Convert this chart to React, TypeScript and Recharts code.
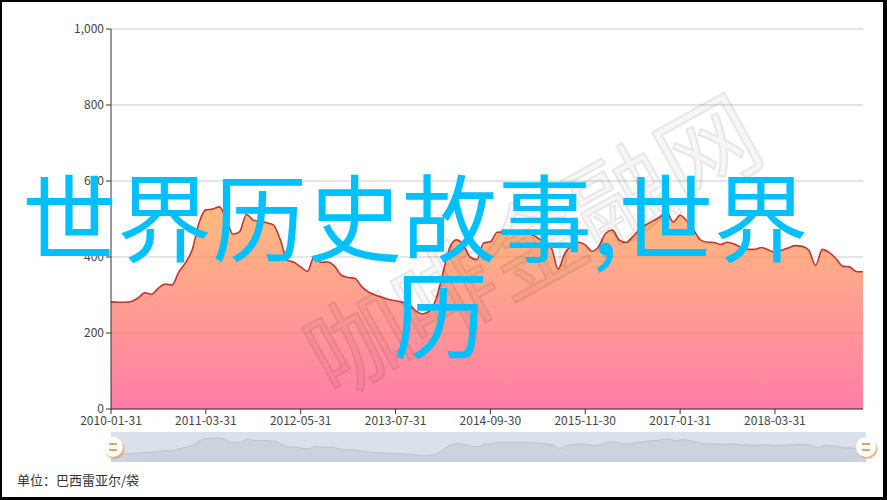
import React from "react";
import { AreaChart, Area, XAxis, YAxis, CartesianGrid } from "recharts";

// Month-end dates, 2010-01 .. 2019-04
const START_YEAR = 2010;
const MONTH_COUNT = 112;
const DATES: string[] = Array.from({ length: MONTH_COUNT }, (_, i) => {
  const y = START_YEAR + Math.floor(i / 12);
  const m = (i % 12) + 1;
  const last = new Date(Date.UTC(y, m, 0)).getUTCDate();
  return `${y}-${String(m).padStart(2, "0")}-${String(last).padStart(2, "0")}`;
});

// Price, BRL per bag
const PRICES: number[] = [
  282, 281, 281, 283, 292, 306, 302, 318, 329, 326,
  360, 385, 420, 490, 524, 526, 532, 500, 460, 467,
  512, 497, 494, 490, 484, 445, 392, 386, 374, 362,
  402, 386, 387, 376, 352, 346, 344, 322, 308, 300,
  294, 288, 285, 281, 275, 258, 250, 258, 290, 358,
  424, 445, 432, 400, 393, 437, 440, 465, 466, 465,
  463, 462, 460, 450, 437, 424, 368, 410, 430, 439,
  432, 415, 428, 462, 471, 445, 438, 453, 472, 485,
  495, 505, 518, 492, 510, 495, 471, 445, 439, 438,
  433, 439, 434, 425, 420, 420, 425, 419, 412, 418,
  424, 430, 428, 418, 378, 420, 412, 396, 376, 374,
  362, 361,
];

const Y_TICKS = [0, 200, 400, 600, 800, 1000];
const TITLE_LINE1 = "世界历史故事,世界";
const TITLE_LINE2 = "历";
const WATERMARK = "咖啡金融网";
const UNIT = "单位：巴西雷亚尔/袋";

const data = DATES.map((d, i) => ({ date: d, price: PRICES[i] }));

const FONT = "'Noto Sans CJK SC', 'Noto Sans', sans-serif";

// round slider handle with the "=" grip
function Handle({ cx, cy }: { cx: number; cy: number }) {
  return (
    <div
      style={{
        position: "absolute",
        left: cx - 10,
        top: cy - 10,
        width: 20,
        height: 20,
        borderRadius: "50%",
        background: "#fff",
        boxShadow: "1.5px 2px 1px rgba(225,160,80,0.75)",
      }}
    >
      <div style={{ position: "absolute", left: 6, top: 6, width: 8, height: 1.5, background: "#e0a55a" }} />
      <div style={{ position: "absolute", left: 6, top: 12, width: 8, height: 1.5, background: "#e0a55a" }} />
    </div>
  );
}

export default function App() {
  return (
    <div
      style={{
        position: "absolute",
        left: 0,
        top: 0,
        width: 887,
        height: 500,
        boxSizing: "border-box",
        borderStyle: "solid",
        borderColor: "#000",
        borderWidth: "2px 4px 3px 2px",
        background: "#fff",
        overflow: "hidden",
        fontFamily: FONT,
      }}
    >
      <div style={{ position: "absolute", left: -2, top: -2 }}>
        <AreaChart
          width={887}
          height={500}
          data={data}
          margin={{ top: 29, right: 24, left: 0, bottom: 66 }}
        >
          <defs>
            <linearGradient id="priceFill" x1="0" y1="0" x2="0" y2="1">
              <stop offset="0%" stopColor="rgb(255,158,68)" stopOpacity={0.7} />
              <stop offset="100%" stopColor="rgb(255,70,131)" stopOpacity={0.7} />
            </linearGradient>
          </defs>
          <CartesianGrid vertical={false} stroke="#ccc" />
          <XAxis
            dataKey="date"
            interval={13}
            height={25}
            tick={{ fontSize: 12, fill: "#444", fontFamily: FONT }}
            tickSize={5}
            axisLine={{ stroke: "#333" }}
            tickLine={{ stroke: "#333" }}
          />
          <YAxis
            width={111}
            domain={[0, 1000]}
            ticks={Y_TICKS}
            tickFormatter={(v: number) => v.toLocaleString("en-US")}
            tick={{ fontSize: 12, fill: "#444", fontFamily: FONT }}
            tickSize={5}
            axisLine={{ stroke: "#333" }}
            tickLine={{ stroke: "#333" }}
          />
          <Area
            type="monotone"
            dataKey="price"
            stroke="#c23531"
            strokeWidth={1.6}
            fill="url(#priceFill)"
            fillOpacity={1}
            dot={false}
            isAnimationActive={false}
          />
        </AreaChart>
      </div>

      {/* data-zoom slider with overview */}
      <div
        style={{
          position: "absolute",
          left: 109,
          top: 430,
          width: 755,
          height: 30,
          background: "#dbe1ea",
        }}
      >
        <AreaChart width={755} height={30} data={data} margin={{ top: 0, right: 0, bottom: 0, left: 0 }}>
          <XAxis dataKey="date" hide />
          <YAxis hide domain={[150, 630]} />
          <Area
            type="monotone"
            dataKey="price"
            stroke="#bcc3ce"
            strokeWidth={1}
            fill="#cdd3dd"
            fillOpacity={1}
            dot={false}
            isAnimationActive={false}
          />
        </AreaChart>
      </div>
      <Handle cx={111} cy={445} />
      <Handle cx={864} cy={445} />

      {/* watermark */}
      <div
        style={{
          position: "absolute",
          left: 530 - 260 - 2,
          top: 240 - 60 - 2,
          width: 520,
          height: 120,
          lineHeight: "120px",
          textAlign: "center",
          fontSize: 100,
          color: "rgba(0,0,0,0.035)",
          WebkitTextStroke: "2px rgba(0,0,0,0.08)",
          transform: "rotate(-29deg)",
          whiteSpace: "nowrap",
          pointerEvents: "none",
        }}
      >
        {WATERMARK}
      </div>

      {/* overlay title */}
      <div
        style={{
          position: "absolute",
          left: 20,
          top: 164,
          fontSize: 95,
          lineHeight: 1,
          color: "#00c0ff",
          whiteSpace: "nowrap",
        }}
      >
        {TITLE_LINE1}
      </div>
      <div
        style={{
          position: "absolute",
          left: 391,
          top: 261,
          fontSize: 95,
          lineHeight: 1,
          color: "#00c0ff",
          whiteSpace: "nowrap",
        }}
      >
        {TITLE_LINE2}
      </div>

      <div
        style={{
          position: "absolute",
          left: 15,
          top: 468,
          fontSize: 13,
          color: "#333",
          whiteSpace: "nowrap",
        }}
      >
        {UNIT}
      </div>
    </div>
  );
}
